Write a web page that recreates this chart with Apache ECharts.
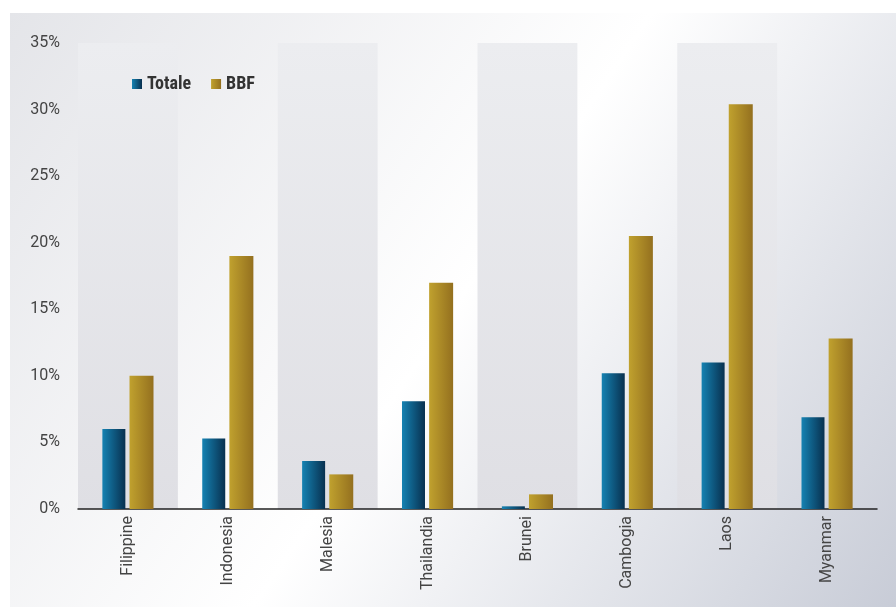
<!DOCTYPE html>
<html><head><meta charset="utf-8">
<script src="https://cdn.jsdelivr.net/npm/echarts@6/dist/echarts.min.js"></script>
<style>html,body{margin:0;padding:0;background:#fff}#c{width:896px;height:607px}</style>
</head><body><div id="c"></div>
<script>
const categories = ['Filippine','Indonesia','Malesia','Thailandia','Brunei','Cambogia','Laos','Myanmar'];
const totale = [6.0, 5.3, 3.6, 8.1, 0.2, 10.2, 11.0, 6.9];
const bbf = [10.0, 19.0, 2.6, 17.0, 1.1, 20.5, 30.4, 12.8];
const seriesNames = ['Totale','BBF'];

const font = "'Roboto',sans-serif";
function hgrad(a,b){return new echarts.graphic.LinearGradient(0,0,1,0,[{offset:0,color:a},{offset:1,color:b}]);}
const chart = echarts.init(document.getElementById('c'));
chart.setOption({
  animation:false,
  graphic:[{type:'rect',z:-10,shape:{x:10,y:13,width:886,height:594},
    style:{fill:new echarts.graphic.LinearGradient(0,0,1,1,[{offset:0,color:'#e4e5e9'},{offset:0.5,color:'#ffffff'},{offset:1,color:'#c8ccd7'}])}}],
  grid:{left:78,right:19,top:43,bottom:98},
  legend:{left:127,top:70,itemWidth:10,itemHeight:10,itemGap:20,icon:'rect',
    textStyle:{fontFamily:"'Roboto Condensed','Liberation Sans Narrow','Roboto',sans-serif",fontWeight:'bold',fontSize:18,color:'#333'},data:seriesNames},
  xAxis:{type:'category',data:categories,
    axisLine:{lineStyle:{color:'#222',width:1.5}},axisTick:{show:false},
    axisLabel:{rotate:90,margin:7,fontFamily:font,fontSize:16,color:'#444'},
    splitArea:{show:true,areaStyle:{color:[new echarts.graphic.LinearGradient(0,0,0,1,[{offset:0,color:'#ecedf0'},{offset:1,color:'#dfdfe4'}]),'rgba(0,0,0,0)']}}},
  yAxis:{type:'value',min:0,max:35,interval:5,
    axisLabel:{formatter:'{value}%',margin:18,fontFamily:font,fontSize:16,color:'#444'},
    splitLine:{show:false},axisLine:{show:false},axisTick:{show:false}},
  series:[
    {name:'Totale',type:'bar',data:totale,barWidth:23,barGap:'18%',itemStyle:{color:hgrad('#1582b2','#08304f')}},
    {name:'BBF',type:'bar',data:bbf,barWidth:24,itemStyle:{color:hgrad('#c0a12e','#94701f')}}
  ]
});
</script></body></html>
